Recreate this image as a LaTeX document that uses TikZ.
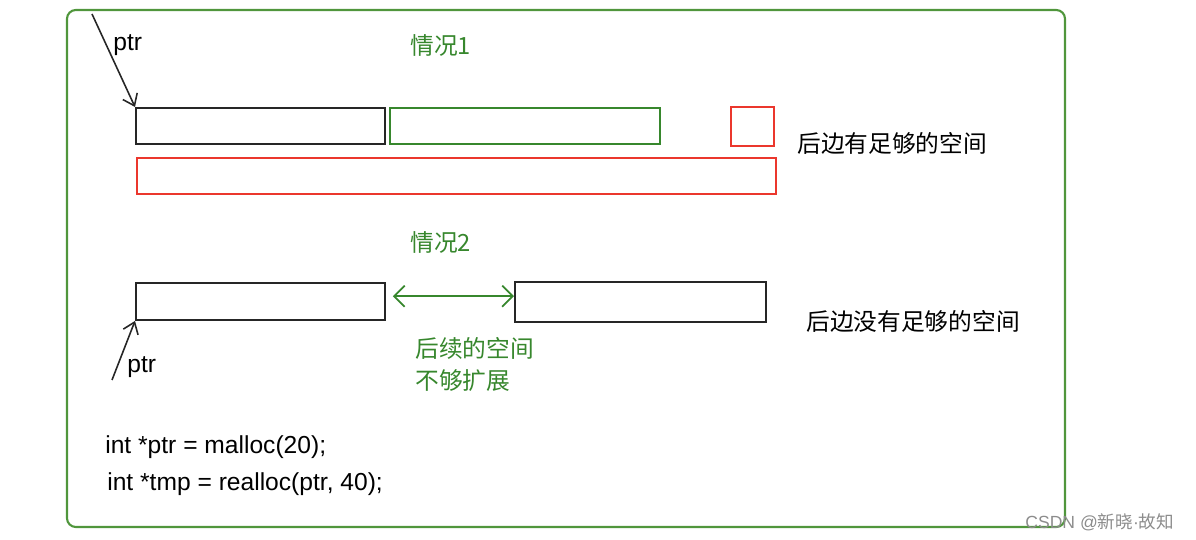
\documentclass[tikz,border=0pt]{standalone}
\usepackage{fontspec}
\setmainfont{Liberation Sans}
\newfontfamily\cjk{Noto Sans CJK SC}
\usetikzlibrary{arrows.meta, positioning}
\definecolor{framegreen}{RGB}{80,150,60}
\definecolor{txtgreen}{RGB}{55,135,45}
\definecolor{memred}{RGB}{235,55,45}
\tikzset{
  block/.style={rectangle, draw, line width=1.1pt, anchor=north west, inner sep=0pt, minimum height=0.72cm},
  oldblk/.style={block, draw=black!85},
  newblk/.style={block, draw=txtgreen},
  redblk/.style={block, draw=memred},
  lbl/.style={anchor=west, inner sep=0pt, font=\cjk\fontsize{13.5}{16}\selectfont},
  code/.style={anchor=base west, inner sep=0pt, font=\fontsize{14}{17}\selectfont},
  ptrline/.style={-{Straight Barb[length=6pt, width=9pt]}, line width=0.9pt, black!85},
  gap/.style={{Straight Barb[length=6pt, width=12pt]}-{Straight Barb[length=6pt, width=12pt]}, line width=1pt, txtgreen}
}
\begin{document}
\begin{tikzpicture}[x=0.02cm, y=-0.02cm]
    \useasboundingbox (0,0) rectangle (1196,540);
    \draw[framegreen, line width=1.2pt, rounded corners=5pt] (67,10) rectangle (1065,527);
    % case 1
    \node[lbl, txtgreen] (c1) at (410,45) {情况1};
    \node[oldblk, minimum width=4.98cm] (a1) at (135,107) {};
    \node[newblk, minimum width=5.4cm] (a2) at (389,107) {};
    \node[redblk, minimum width=0.86cm, minimum height=0.78cm] (a3) at (730,106) {};
    \node[redblk, minimum width=12.78cm] (a4) at (136,157) {};
    \node[lbl] (t1) at (797,143) {后边有足够的空间};
    \coordinate (p1) at (92,14);
    \node[code] (n1) at (113,51) {ptr};
    \draw[ptrline] (p1) -- (a1.north west);
    % case 2
    \node[lbl, txtgreen] (c2) at (410,242) {情况2};
    \node[oldblk, minimum width=4.98cm, minimum height=0.74cm] (b1) at (135,282) {};
    \node[oldblk, minimum width=5.02cm, minimum height=0.8cm] (b2) at (514,281) {};
    \node[lbl] (t2) at (806,321) {后边没有足够的空间};
    \draw[gap] ([xshift=4pt, yshift=3pt]b1.east) -- ([yshift=3pt]b1.east -| b2.west);
    \node[lbl, txtgreen] (g1) at (415,348) {后续的空间};
    \node[lbl, txtgreen] (g2) at (415,381) {不够扩展};
    \coordinate (p2) at (112,380);
    \node[code] (n2) at (127,372) {ptr};
    \draw[ptrline] (p2) -- (b1.south west);
    % code
    \node[code] (l1) at (105,453) {int *ptr = malloc(20);};
    \node[code] (l2) at (107,490) {int *tmp = realloc(ptr, 40);};
    \node[anchor=west, inner sep=0pt, text=black!45, font=\fontsize{10}{12}\selectfont] (wm) at (1025,522) {CSDN @{\cjk 新晓}·{\cjk 故知}};
\end{tikzpicture}
\end{document}
